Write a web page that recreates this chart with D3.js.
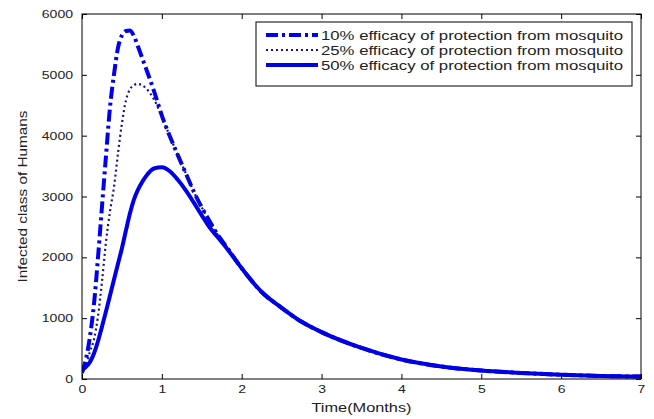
<!DOCTYPE html>
<html>
<head>
<meta charset="utf-8">
<script src="https://cdn.jsdelivr.net/npm/d3@7"></script>
<style>
    body { margin: 0; background: #fff; }
    text { font-family: "Liberation Sans", Arial, sans-serif; fill: #222; }
</style>
</head>
<body>
<svg id="chart" width="654" height="419"></svg>
<script>
// time grid (months)
var timeMonths = [0, 0.05, 0.1, 0.15, 0.2, 0.25, 0.3, 0.35, 0.4, 0.45, 0.5, 0.55, 0.6, 0.65, 0.7, 0.75, 0.8, 0.9,
    1.0, 1.1, 1.2, 1.3, 1.4, 1.5, 1.6, 1.7, 1.8, 2.0, 2.25, 2.5, 2.75, 3.0, 3.5, 4.0, 4.5, 5.0, 5.5, 6.0, 6.5, 7.0];

// infected humans per scenario
var eff10 = [100, 330, 700, 1230, 1990, 2830, 3660, 4460, 5000, 5440, 5650, 5720, 5730, 5640, 5470, 5290, 5110, 4740,
    4330, 3990, 3680, 3380, 3080, 2820, 2590, 2370, 2190, 1820, 1430, 1170, 940, 770, 510, 320, 205, 140, 100, 70, 50, 40];
var eff25 = [100, 220, 450, 650, 1030, 1600, 2250, 2750, 3150, 3700, 4200, 4580, 4760, 4830, 4850, 4830, 4780, 4600,
    4310, 3990, 3680, 3380, 3080, 2820, 2590, 2370, 2190, 1820, 1430, 1170, 940, 770, 510, 320, 205, 140, 100, 70, 50, 40];
var eff50 = [150, 200, 280, 420, 620, 860, 1110, 1370, 1630, 1890, 2150, 2440, 2720, 2950, 3110, 3230, 3330, 3460,
    3480, 3415, 3275, 3100, 2900, 2690, 2490, 2330, 2170, 1820, 1430, 1170, 940, 770, 510, 320, 205, 140, 100, 70, 50, 40];

var legendLabels = ["10% efficacy of protection from mosquito",
    "25% efficacy of protection from mosquito",
    "50% efficacy of protection from mosquito"];

var xTicks = [0, 1, 2, 3, 4, 5, 6, 7];
var yTicks = [0, 1000, 2000, 3000, 4000, 5000, 6000];

function draw() {
    var svg = d3.select("#chart");
    var left = 82, right = 641, top = 14, bottom = 379;

    var x = d3.scaleLinear().domain([0, 7]).range([left, right]);
    var y = d3.scaleLinear().domain([0, 6000]).range([bottom, top]);

    var series = [
        {values: eff10, width: 4, dash: "12,4,3,4", color: "#0000f0"},
        {values: eff25, width: 2.2, dash: "2,3", color: "#14148a"},
        {values: eff50, width: 4, dash: null, color: "#0000e6"}
    ];

    svg.append("clipPath").attr("id", "clip")
        .append("rect").attr("x", left).attr("y", top)
        .attr("width", right - left).attr("height", bottom - top);

    var line = d3.line()
        .x(function(d, i) { return x(timeMonths[i]); })
        .y(function(d) { return y(d); })
        .curve(d3.curveMonotoneX);

    svg.append("g").attr("clip-path", "url(#clip)")
        .selectAll("path").data(series).enter().append("path")
        .attr("d", function(s) { return line(s.values); })
        .attr("fill", "none")
        .attr("stroke", function(s) { return s.color; })
        .attr("stroke-width", function(s) { return s.width; })
        .attr("stroke-dasharray", function(s) { return s.dash; });

    // axes box with inward ticks on every side
    var tick = 5;
    svg.append("g").attr("transform", "translate(0," + bottom + ")")
        .call(d3.axisBottom(x).tickValues(xTicks).tickSizeInner(-tick).tickSizeOuter(0).tickPadding(6).tickFormat(d3.format("d")));
    svg.append("g").attr("transform", "translate(0," + top + ")")
        .call(d3.axisTop(x).tickValues(xTicks).tickSizeInner(-tick).tickSizeOuter(0).tickFormat(""));
    svg.append("g").attr("transform", "translate(" + left + ",0)")
        .call(d3.axisLeft(y).tickValues(yTicks).tickSizeInner(-tick).tickSizeOuter(0).tickPadding(9).tickFormat(d3.format("d")));
    svg.append("g").attr("transform", "translate(" + right + ",0)")
        .call(d3.axisRight(y).tickValues(yTicks).tickSizeInner(-tick).tickSizeOuter(0).tickFormat(""));

    svg.selectAll(".domain").remove();
    svg.selectAll(".tick line").attr("stroke", "#000");
    svg.selectAll(".tick text")
        .attr("font-size", 11)
        .attr("textLength", function() { return this.textContent.length * 7.8; })
        .attr("lengthAdjust", "spacingAndGlyphs")
        .style("font-family", "Liberation Sans, Arial, sans-serif")
        .attr("fill", "#222");

    svg.append("rect")
        .attr("x", left).attr("y", top)
        .attr("width", right - left).attr("height", bottom - top)
        .attr("fill", "none").attr("stroke", "#000").attr("stroke-width", 1);

    // axis titles
    svg.append("text")
        .attr("x", (left + right) / 2).attr("y", 412)
        .attr("text-anchor", "middle").attr("font-size", 12)
        .attr("textLength", 100).attr("lengthAdjust", "spacingAndGlyphs")
        .text("Time(Months)");
    svg.append("text")
        .attr("transform", "translate(27," + (top + bottom) / 2 + ") rotate(-90)")
        .attr("text-anchor", "middle").attr("font-size", 12)
        .attr("textLength", 172).attr("lengthAdjust", "spacingAndGlyphs")
        .text("Infected class of Humans");

    // legend
    var lg = svg.append("g");
    lg.append("rect")
        .attr("x", 256).attr("y", 22).attr("width", 376).attr("height", 64)
        .attr("fill", "#fff").attr("stroke", "#000").attr("stroke-width", 1);
    var rows = lg.selectAll("g.row").data(series).enter().append("g")
        .attr("transform", function(s, i) { return "translate(0," + (35 + i * 15) + ")"; });
    rows.append("line")
        .attr("x1", 266).attr("x2", 318)
        .attr("stroke", function(s) { return s.color; })
        .attr("stroke-width", function(s) { return s.width; })
        .attr("stroke-dasharray", function(s) { return s.dash; });
    rows.append("text")
        .attr("x", 321).attr("y", 4.5)
        .attr("font-size", 12)
        .attr("textLength", 302).attr("lengthAdjust", "spacingAndGlyphs")
        .text(function(s, i) { return legendLabels[i]; });
}

window.onload = draw;
</script>
</body>
</html>
